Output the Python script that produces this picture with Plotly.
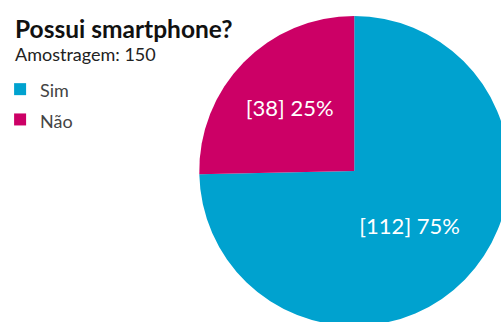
import plotly.graph_objects as go

# Survey answers: does the respondent own a smartphone?
labels = ["Sim", "Não"]
counts = [112, 38]
colors = ["#00A2CF", "#CC0066"]
title_text = "Possui smartphone?"
subtitle_text = "Amostragem: 150"

FONT = "Lato, 'Open Sans', sans-serif"

W, H = 520, 342
MT, MB = 16, 16
plot_h = H - MT - MB


def py(pixel_y):
    """Convert a pixel row (from the top of the figure) to paper y."""
    return (H - MB - pixel_y) / plot_h


fig = go.Figure(
    go.Pie(
        labels=[f"<span style='font-size:18px'>{l}</span>" for l in labels],
        values=counts,
        marker=dict(colors=colors, line=dict(width=0)),
        sort=False,
        direction="clockwise",
        rotation=0,
        texttemplate="[%{value}] %{percent:.0%}",
        textposition="inside",
        insidetextorientation="horizontal",
        textfont=dict(family=FONT, size=22, color="white"),
        domain=dict(x=[(352 - 168) / W, 1.0], y=[0, 1]),
        hoverinfo="label+value+percent",
    )
)

fig.update_layout(
    width=W,
    height=H,
    margin=dict(l=0, r=0, t=MT, b=MB),
    paper_bgcolor="white",
    plot_bgcolor="white",
    font=dict(family=FONT, color="#222222"),
    showlegend=True,
    legend=dict(
        x=-7 / W,
        xanchor="left",
        y=py(69),
        yanchor="top",
        font=dict(family=FONT, size=21, color="#444444"),
        bgcolor="rgba(0,0,0,0)",
    ),
    annotations=[
        dict(
            text=f"<b>{title_text}</b>",
            x=6 / W, xref="paper", xanchor="left",
            y=py(12), yref="paper", yanchor="top",
            showarrow=False,
            font=dict(family=FONT, size=24.5, color="#111111"),
        ),
        dict(
            text=subtitle_text,
            x=6 / W, xref="paper", xanchor="left",
            y=py(41), yref="paper", yanchor="top",
            showarrow=False,
            font=dict(family=FONT, size=18, color="#222222"),
        ),
    ],
)

fig.write_html(
    "out.html",
    post_script="document.body.style.overflow='hidden';"
                "document.documentElement.style.overflow='hidden';",
)
